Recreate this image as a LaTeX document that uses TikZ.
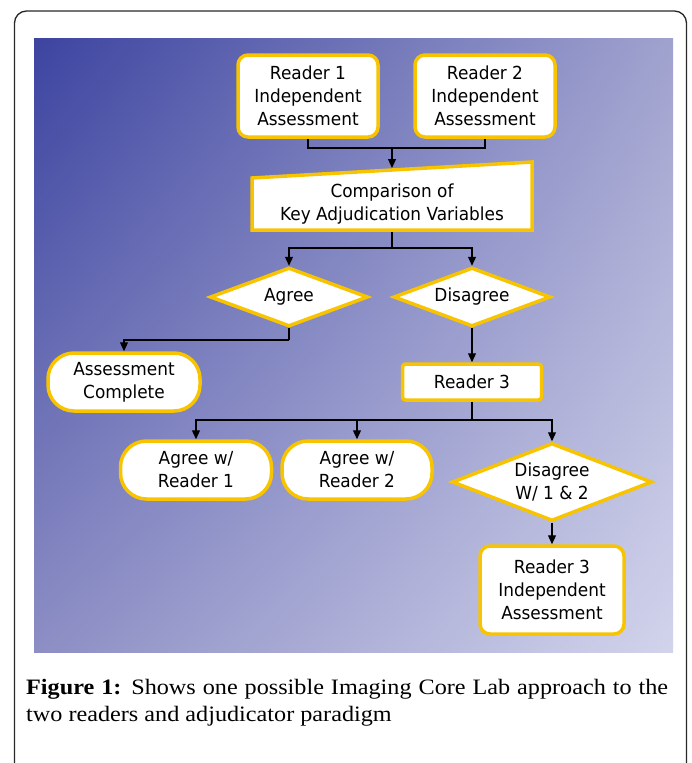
\documentclass[tikz,border=0pt]{standalone}
\usepackage{fontspec}
\usetikzlibrary{arrows.meta,shapes.geometric,shadings}
\newfontfamily\dfont[FakeStretch=0.94]{DejaVu Sans}
\newfontfamily\capfont[FakeStretch=1.1]{Liberation Serif}
\definecolor{gTL}{RGB}{60,68,160}
\definecolor{gTR}{RGB}{160,162,206}
\definecolor{gBL}{RGB}{140,142,196}
\definecolor{gBR}{RGB}{210,212,236}
\definecolor{yel}{RGB}{248,196,0}
\definecolor{framec}{RGB}{40,40,40}
\tikzset{
  base/.style={draw=yel, line width=3.5pt, fill=white, font=\dfont\fontsize{18}{23}\selectfont, align=center, inner sep=0pt},
  rbox/.style={base, rectangle, rounded corners=10pt},
  stad/.style={base, rectangle, rounded corners=26pt},
  dia/.style={base, diamond},
  conn/.style={line width=1.2pt, black},
  arr/.style={conn, -{Triangle[length=9pt,width=8pt]}}
}
\begin{document}
\begin{tikzpicture}[x=1pt,y=-1pt]
\useasboundingbox (0,0) rectangle (692,763);
\fill[white] (0,0) rectangle (692,763);
% outer frame
\draw[framec, line width=1.3pt, rounded corners=12pt] (14.5,775) -- (14.5,11) -- (686.5,11) -- (686.5,775);
% gradient panel
\shade[upper left=gTL, upper right=gTR, lower left=gBL, lower right=gBR] (34,38) rectangle (673,652);
% nodes
\node[rbox, minimum width=140pt, minimum height=82pt] (r1) at (308,96) {Reader 1\\Independent\\Assessment};
\node[rbox, minimum width=140pt, minimum height=82pt] (r2) at (485,96) {Reader 2\\Independent\\Assessment};
% manual input shape
\draw[draw=yel, line width=3.5pt, fill=white, line join=miter] (252,178) -- (532,162) -- (532,230) -- (252,230) -- cycle;
\coordinate (comptop) at (392,168);
\node[font=\dfont\fontsize{18}{23}\selectfont, align=center, inner sep=0pt, minimum width=280pt, minimum height=52pt, outer sep=1.75pt] (comp) at (392,204) {Comparison of\\Key Adjudication Variables};
\node[dia, minimum width=158pt, minimum height=59pt, aspect=2.7] (agree) at (289,297) {Agree};
\node[dia, minimum width=157pt, minimum height=59pt, aspect=2.7] (dis) at (472,297) {Disagree};
\node[stad, minimum width=152pt, minimum height=58pt] (asc) at (124,382) {Assessment\\Complete};
\node[base, rectangle, rounded corners=3pt, minimum width=139pt, minimum height=36pt] (r3) at (472,382) {Reader 3};
\node[stad, minimum width=151pt, minimum height=58pt] (a1) at (196,470) {Agree w/\\Reader 1};
\node[stad, minimum width=150pt, minimum height=58pt] (a2) at (357,470) {Agree w/\\Reader 2};
\node[dia, minimum width=200pt, minimum height=78pt, aspect=2.55] (d12) at (552,482) {Disagree\\W/ 1 \& 2};
\node[rbox, minimum width=144pt, minimum height=88pt] (r3i) at (552,590) {Reader 3\\Independent\\Assessment};
% junctions
\coordinate (j0) at (392,148);
\coordinate (j1) at (392,248);
\coordinate (j2) at (289,340);
\coordinate (j3) at (472,420);
% connectors
\draw[conn] (r1.south) |- (j0) -| (r2.south);
\draw[arr] (j0) -- (comptop);
\draw[conn] (comp.south) -- (j1);
\draw[arr] (j1) -| (agree.north);
\draw[arr] (j1) -| (dis.north);
\draw[conn] (agree.south) -- (j2);
\draw[arr] (j2) -| (asc.north);
\draw[arr] (dis.south) -- (r3.north);
\draw[conn] (r3.south) -- (j3);
\draw[arr] (j3) -| (a1.north);
\draw[arr] (j3) -| (a2.north);
\draw[arr] (j3) -| (d12.north);
\draw[arr] (d12.south) -- (r3i.north);
% caption
\node[anchor=base west, inner sep=0pt, font=\capfont\fontsize{22}{27}\selectfont] (cap1) at (26,694) {\makebox[642pt][s]{\textbf{Figure 1:} Shows one possible Imaging Core Lab approach to the}};
\node[anchor=base west, inner sep=0pt, font=\capfont\fontsize{22}{27}\selectfont] (cap2) at (26,721) {two readers and adjudicator paradigm};
\end{tikzpicture}
\end{document}
